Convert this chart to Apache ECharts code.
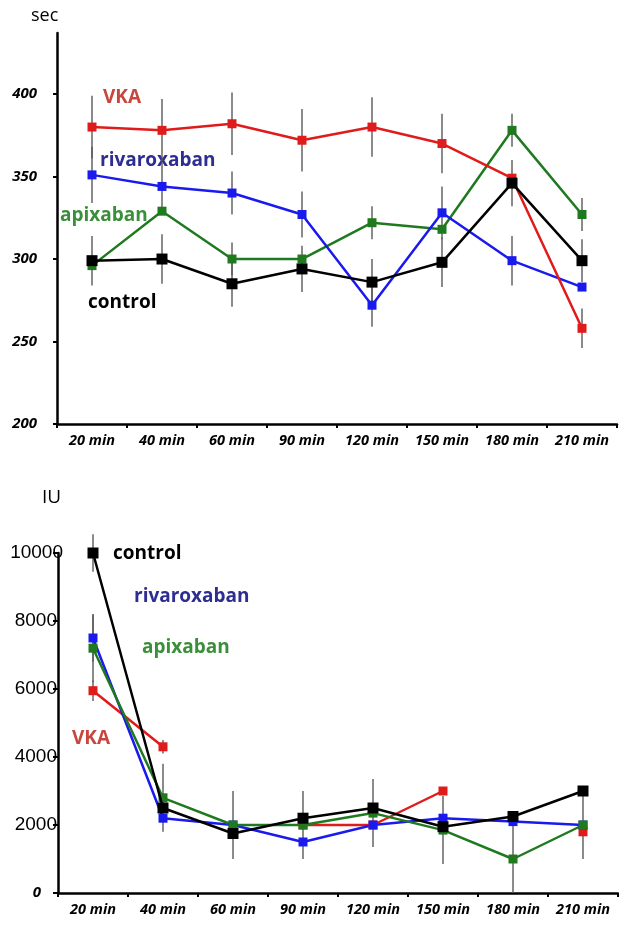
<!DOCTYPE html>
<html><head><meta charset="utf-8">
<script src="https://cdn.jsdelivr.net/npm/echarts@6/dist/echarts.min.js"></script>
<style>html,body{margin:0;padding:0;background:#fff}#c{width:619px;height:926px}</style>
</head><body><div id="c"></div>
<script>
const categories = ['20 min','40 min','60 min','90 min','120 min','150 min','180 min','210 min'];
// Top chart (sec)
const topVKA = [380, 378, 382, 372, 380, 370, 349, 258];
const topRiva = [351, 344, 340, 327, 272, 328, 299, 283];
const topApix = [296, 329, 300, 300, 322, 318, 378, 327];
const topControl = [299, 300, 285, 294, 286, 298, 346, 299];
const topErrVKA = [19, 19, 19, 19, 18, 18, 0, 12];
const topErrRiva = [17, 15, 13, 14, 13, 16, 15, 0];
const topErrApix = [0, 0, 10, 0, 10, 0, 10, 10];
const topErrControl = [15, 15, 14, 14, 14, 15, 14, 13];
const topTicks = [200, 250, 300, 350, 400];
// Bottom chart (IU)
const botVKA = [5950, 4300, null, 2000, 2000, 3000, null, 1800];
const botRiva = [7500, 2200, 2000, 1500, 2000, 2200, 2100, 2000];
const botApix = [7200, 2800, 2000, 2000, 2350, 1850, 1000, 2000];
const botControl = [10000, 2500, 1750, 2200, 2500, 1950, 2250, 3000];
const botErrVKA = [300, 200, 0, 0, 0, 0, 0, 0];
const botErrRiva = [700, 0, 0, 0, 0, 0, 0, 0];
const botErrApix = [1000, 1000, 1000, 1000, 1000, 1000, 1000, 1000];
const botErrControl = [550, 0, 0, 0, 0, 0, 0, 0];
const botTicks = [0, 2000, 4000, 6000, 8000, 10000];

const RED = '#e01b1b', BLUE = '#1a1aee', GREEN = '#1f7a1f', BLACK = '#000';
const chart = echarts.init(document.getElementById('c'), null, {renderer:'canvas'});
const FONT = '"Open Sans", "Liberation Sans", sans-serif';

function lineSeries(name, data, color, gi, big) {
  return {
    name, type: 'line', xAxisIndex: gi, yAxisIndex: gi, data,
    symbol: 'rect', symbolSize: big ? 11 : 9, connectNulls: false,
    lineStyle: {color, width: 2.5}, itemStyle: {color},
    z: big ? 5 : 4, animation: false
  };
}
function errSeries(vals, errs, gi) {
  return {
    type: 'custom', xAxisIndex: gi, yAxisIndex: gi, z: 2, animation: false, silent: true,
    data: vals.map((v, i) => [i, v, errs[i]]).filter(d => d[1] != null && d[2] > 0),
    renderItem: (params, api) => {
      const x = api.value(0), v = api.value(1), e = api.value(2);
      const p1 = api.coord([x, v - e]), p2 = api.coord([x, v + e]);
      return {type: 'line', shape: {x1: p1[0], y1: p1[1], x2: p2[0], y2: p2[1]},
        style: {stroke: '#5a5a5a', lineWidth: 1.4}};
    }
  };
}
const xAxisCommon = {
  type: 'category', data: categories, boundaryGap: true,
  axisLine: {lineStyle: {color: '#000', width: 2.5}},
  axisTick: {show: true, alignWithLabel: false, length: 4, lineStyle: {color: '#000', width: 2}},
  axisLabel: {fontFamily: FONT, fontWeight: 'bold', fontStyle: 'italic', fontSize: 14.5, color: '#000', margin: 9, interval: 0},
  splitLine: {show: false}
};
const text = (t, x, y, color, size, weight) => ({
  type: 'text', left: x, top: y, style: {text: t, fill: color, font: `${weight||'bold'} ${size||19}px ${FONT}`}
});

chart.setOption({
  animation: false,
  grid: [
    {left: 57, top: 33, width: 560, height: 391},
    {left: 58, top: 553, width: 560, height: 340}
  ],
  xAxis: [
    Object.assign({gridIndex: 0}, xAxisCommon),
    Object.assign({gridIndex: 1}, xAxisCommon)
  ],
  yAxis: [
    {gridIndex: 0, type: 'value', min: topTicks[0], max: 437, interval: 50,
      axisLine: {show: true, lineStyle: {color: '#000', width: 2.5}},
      axisTick: {show: true, length: 4, lineStyle: {color: '#000', width: 2}},
      axisLabel: {showMaxLabel: false, fontFamily: FONT, fontWeight: 'bold', fontStyle: 'italic', fontSize: 15, color: '#000', margin: 20,
        formatter: v => topTicks.includes(v) ? String(v) : ''},
      splitLine: {show: false}},
    {gridIndex: 1, type: 'value', min: botTicks[0], max: botTicks[botTicks.length-1], interval: 2000,
      axisLine: {show: true, lineStyle: {color: '#000', width: 2.5}},
      axisTick: {show: true, length: 5, lineStyle: {color: '#000', width: 2}},
      axisLabel: {margin: 1, color: '#000',
        formatter: v => v === 0 ? '{z|0}' : (v === 10000 ? '{t|' + v + '}' : '{n|' + v + '}'),
        rich: {
          z: {fontFamily: FONT, fontWeight: 'bold', fontStyle: 'italic', fontSize: 15, color: '#000', padding: [0, 16, 0, 0]},
          n: {fontFamily: '"Liberation Sans", Arial, sans-serif', fontSize: 19, color: '#000', padding: [0, 0, 0, 0]},
          t: {fontFamily: '"Liberation Sans", Arial, sans-serif', fontSize: 19, color: '#000', padding: [0, -6, 0, 0]}
        }},
      splitLine: {show: false}}
  ],
  graphic: [
    text('sec', 31, 7, '#000', 18, 'normal'),
    text('IU', 42, 488, '#000', 19, 'normal'),
    text('VKA', 103, 88, '#c7463d'),
    text('rivaroxaban', 100, 151, '#2d2d92'),
    text('apixaban', 60, 206, '#3a8f3a'),
    text('control', 88, 293, '#000'),
    text('control', 113, 544, '#000'),
    text('rivaroxaban', 134, 587, '#2d2d92'),
    text('apixaban', 142, 638, '#3a8f3a'),
    text('VKA', 72, 729, '#c7463d')
  ],
  series: [
    errSeries(topVKA, topErrVKA, 0),
    errSeries(topRiva, topErrRiva, 0),
    errSeries(topApix, topErrApix, 0),
    errSeries(topControl, topErrControl, 0),
    lineSeries('control', topControl, BLACK, 0, true),
    lineSeries('apixaban', topApix, GREEN, 0),
    lineSeries('rivaroxaban', topRiva, BLUE, 0),
    lineSeries('VKA', topVKA, RED, 0),
    errSeries(botVKA, botErrVKA, 1),
    errSeries(botRiva, botErrRiva, 1),
    errSeries(botApix, botErrApix, 1),
    errSeries(botControl, botErrControl, 1),
    lineSeries('VKA', botVKA, RED, 1),
    lineSeries('rivaroxaban', botRiva, BLUE, 1),
    lineSeries('apixaban', botApix, GREEN, 1),
    lineSeries('control', botControl, BLACK, 1, true)
  ]
});
</script></body></html>
